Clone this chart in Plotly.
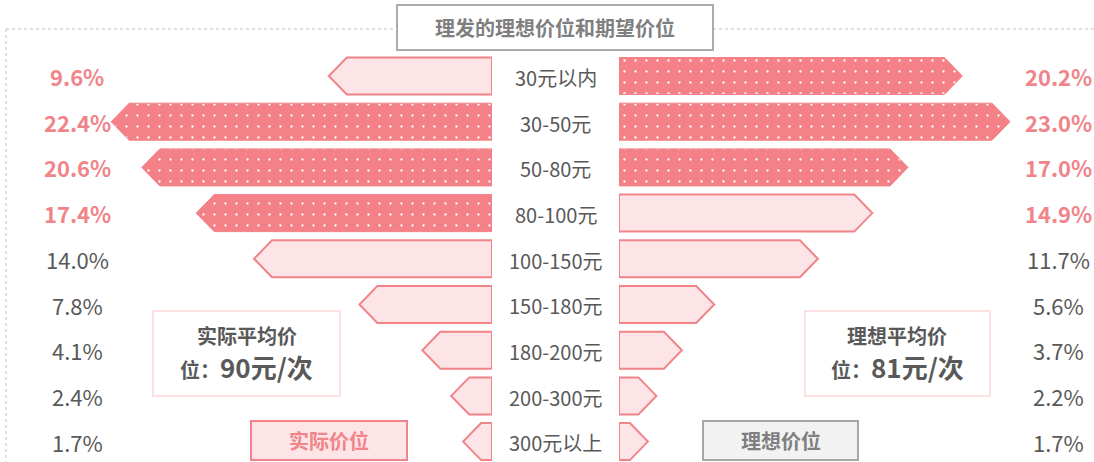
import plotly.graph_objects as go

# ---- datos ----
CATEGORIAS = ['30元以内', '30-50元', '50-80元', '80-100元', '100-150元',
              '150-180元', '180-200元', '200-300元', '300元以上']
REAL = [9.6, 22.4, 20.6, 17.4, 14.0, 7.8, 4.1, 2.4, 1.7]     # 实际价位 (izquierda)
IDEAL = [20.2, 23.0, 17.0, 14.9, 11.7, 5.6, 3.7, 2.2, 1.7]   # 理想价位 (derecha)
TITULO = '理发的理想价位和期望价位'
PROM_REAL = '90元/次'
PROM_IDEAL = '81元/次'

# ---- estilos ----
W, H = 1094, 462
DARK = '#F38187'
LIGHT = '#FDE5E7'
EDGE = '#F08489'
GRAY = '#595959'
FONT = 'Noto Sans CJK SC'

PX_PER_UNIT = 17.0        # px por punto porcentual
ROW_PX = 45.7             # alto de fila
ROW0_PX = 76              # centro de la primera fila
LEFT_ZERO, RIGHT_ZERO = 492, 619
TIP = 18 / PX_PER_UNIT    # profundidad de la punta
HALF = 18.5 / ROW_PX      # medio alto de barra


def py(px):
    return 1 - px / H


def arrow(v, i):
    xs = [0, v - TIP, v, v - TIP, 0, 0]
    ys = [i - HALF, i - HALF, i, i + HALF, i + HALF, i - HALF]
    return xs, ys


def top3(vals):
    return sorted(range(len(vals)), key=lambda k: -vals[k])[:3]


def txt(x, y, text, size, color, yref='paper'):
    return dict(x=x / W, y=y, xref='paper', yref=yref, text=text, showarrow=False,
                xanchor='center', yanchor='middle', font=dict(size=size, color=color))


fig = go.Figure()

for vals, xa in [(REAL, 'x'), (IDEAL, 'x2')]:
    dark = top3(vals)
    for i, v in enumerate(vals):
        xs, ys = arrow(v, i)
        if i in dark:
            fig.add_trace(go.Scatter(
                x=xs, y=ys, xaxis=xa, yaxis='y', mode='lines', fill='toself',
                fillcolor=DARK, line=dict(color=DARK, width=1),
                fillpattern=dict(shape='.', bgcolor=DARK, fgcolor='white',
                                 size=11, solidity=0.035, fillmode='replace'),
                hoverinfo='skip', showlegend=False))
        else:
            fig.add_trace(go.Scatter(
                x=xs, y=ys, xaxis=xa, yaxis='y', mode='lines', fill='toself',
                fillcolor=LIGHT, line=dict(color=EDGE, width=2),
                hoverinfo='skip', showlegend=False))

# etiquetas
ann = []
for i, cat in enumerate(CATEGORIAS):
    ann.append(txt((LEFT_ZERO + RIGHT_ZERO) / 2, i + 0.03, cat, 20, GRAY, 'y'))
    for vals, xp in [(REAL, 77), (IDEAL, 1058)]:
        bold = i < 4
        ann.append(txt(xp, i, f'<b>{vals[i]:.1f}%</b>' if bold else f'{vals[i]:.1f}%',
                       22, EDGE if bold else GRAY, 'y'))

# título
ann.append(txt(555, py(27.5), f'<b>{TITULO}</b>', 20, '#7F7F7F'))

# cajas de promedio
for cx, label, val in [(246.5, '实际平均价', PROM_REAL), (897.5, '理想平均价', PROM_IDEAL)]:
    ann.append(txt(cx, py(335), f'<b>{label}</b>', 20, GRAY))
    ann.append(txt(cx, py(366), f"<b>位：<span style='font-size:26px'>{val}</span></b>", 20, GRAY))

# leyendas
ann.append(txt(328.5, py(440), '<b>实际价位</b>', 20, EDGE))
ann.append(txt(780.5, py(440), '<b>理想价位</b>', 20, '#7F7F7F'))

shapes = [
    # marco punteado
    dict(type='line', xref='paper', yref='paper', x0=6 / W, x1=397 / W, y0=py(29), y1=py(29),
         line=dict(color='#BFBFBF', width=1, dash='dot')),
    dict(type='line', xref='paper', yref='paper', x0=713 / W, x1=1, y0=py(29), y1=py(29),
         line=dict(color='#BFBFBF', width=1, dash='dot')),
    dict(type='line', xref='paper', yref='paper', x0=6 / W, x1=6 / W, y0=py(29), y1=0,
         line=dict(color='#BFBFBF', width=1, dash='dot')),
    # caja título
    dict(type='rect', xref='paper', yref='paper', x0=397 / W, x1=713 / W, y0=py(50), y1=py(5),
         fillcolor='white', line=dict(color='#AAAAAA', width=2), layer='below'),
    # cajas promedio
    dict(type='rect', xref='paper', yref='paper', x0=153 / W, x1=340 / W, y0=py(396), y1=py(311),
         fillcolor='white', line=dict(color='#FDE0E2', width=2), layer='below'),
    dict(type='rect', xref='paper', yref='paper', x0=805 / W, x1=990 / W, y0=py(396), y1=py(311),
         fillcolor='white', line=dict(color='#FDE0E2', width=2), layer='below'),
    # leyendas
    dict(type='rect', xref='paper', yref='paper', x0=251 / W, x1=407 / W, y0=py(460), y1=py(421),
         fillcolor=LIGHT, line=dict(color=EDGE, width=2), layer='below'),
    dict(type='rect', xref='paper', yref='paper', x0=703 / W, x1=858 / W, y0=py(460), y1=py(421),
         fillcolor='#F2F2F2', line=dict(color='#A6A6A6', width=2), layer='below'),
]

ax = dict(showgrid=False, zeroline=False, showticklabels=False, showline=False, fixedrange=True)
fig.update_layout(
    width=W, height=H, margin=dict(l=0, r=0, t=0, b=0),
    paper_bgcolor='white', plot_bgcolor='rgba(0,0,0,0)',
    font=dict(family=FONT, color=GRAY),
    xaxis=dict(domain=[0, LEFT_ZERO / W], range=[LEFT_ZERO / PX_PER_UNIT, 0], **ax),
    xaxis2=dict(domain=[RIGHT_ZERO / W, 1], range=[0, (W - RIGHT_ZERO) / PX_PER_UNIT], **ax),
    yaxis=dict(domain=[0, 1], range=[(H - ROW0_PX) / ROW_PX, -ROW0_PX / ROW_PX], **ax),
    annotations=ann, shapes=shapes,
)

fig.write_html('out.html', config={'displayModeBar': False},
               post_script="document.body.style.margin='0';")
